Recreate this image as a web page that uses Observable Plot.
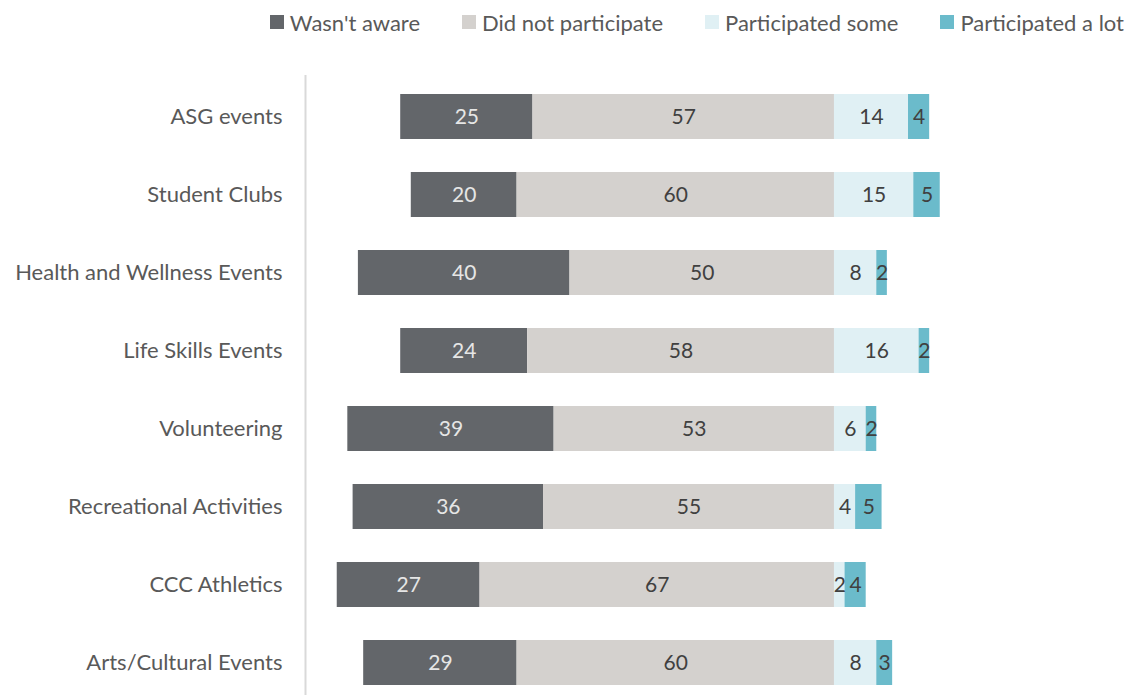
<!DOCTYPE html>
<html>
<head>
<meta charset="utf-8">
<script src="https://cdn.jsdelivr.net/npm/d3@7"></script>
<script src="https://cdn.jsdelivr.net/npm/@observablehq/plot@0.6"></script>
<style>
  body { margin: 0; background: #fff; font-family: Lato, "Open Sans", sans-serif; }
  #legend { height: 44px; display: flex; justify-content: flex-end; align-items: center; padding-right: 3px; font-size: 22px; color: #595959; }
  .item { display: flex; align-items: center; margin-left: 42px; }
  .sw { width: 14px; height: 14px; margin-right: 6px; }
</style>
</head>
<body>
<div id="legend"></div>
<div id="chart"></div>
<script>
const categories = ["ASG events", "Student Clubs", "Health and Wellness Events", "Life Skills Events", "Volunteering", "Recreational Activities", "CCC Athletics", "Arts/Cultural Events"];
const seriesNames = ["Wasn't aware", "Did not participate", "Participated some", "Participated a lot"];
const wasntAware = [25, 20, 40, 24, 39, 36, 27, 29];
const didNotParticipate = [57, 60, 50, 58, 53, 55, 67, 60];
const participatedSome = [14, 15, 8, 16, 6, 4, 2, 8];
const participatedALot = [4, 5, 2, 2, 2, 5, 4, 3];
const colors = ["#63666A", "#D4D1CE", "#E0F0F4", "#6BBBCB"];

// build segments (diverging around 0: negatives left, positives right)
const segs = [];
categories.forEach((c, i) => {
  const a = wasntAware[i], b = didNotParticipate[i], s = participatedSome[i], l = participatedALot[i];
  segs.push({cat: c, series: seriesNames[0], v: a, x1: -(a + b), x2: -b});
  segs.push({cat: c, series: seriesNames[1], v: b, x1: -b, x2: 0});
  segs.push({cat: c, series: seriesNames[2], v: s, x1: 0, x2: s});
  segs.push({cat: c, series: seriesNames[3], v: l, x1: s, x2: s + l});
});

const legend = document.getElementById("legend");
seriesNames.forEach((n, i) => {
  const d = document.createElement("div");
  d.className = "item";
  if (i === 0) d.style.marginLeft = "0";
  d.innerHTML = `<div class="sw" style="background:${colors[i]}"></div><span>${n}</span>`;
  legend.appendChild(d);
});

const plot = Plot.plot({
  width: 1127,
  height: 651,
  marginLeft: 305,
  marginRight: 0,
  marginTop: 31,
  marginBottom: 0,
  x: {domain: [-100, 55.4], axis: null},
  y: {domain: categories, paddingInner: 0.427, paddingOuter: 0.159, align: 0.66, label: null},
  color: {domain: seriesNames, range: colors},
  style: {fontFamily: "Lato, 'Open Sans', sans-serif", fontSize: "22px"},
  marks: [
    Plot.axisY({tickSize: 0, tickPadding: 23, fontSize: 22, color: "#595959", label: null}),
    Plot.ruleX([-100], {stroke: "#D9D9D9", strokeWidth: 2}),
    Plot.barX(segs, {y: "cat", x1: "x1", x2: "x2", fill: "series"}),
    Plot.text(segs, {
      y: "cat",
      x: d => (d.x1 + d.x2) / 2,
      text: d => String(d.v),
      fill: d => d.series === seriesNames[0] ? "#E6E6E6" : "#404040",
      fontSize: 21
    })
  ]
});
document.getElementById("chart").appendChild(plot);
</script>
</body>
</html>
